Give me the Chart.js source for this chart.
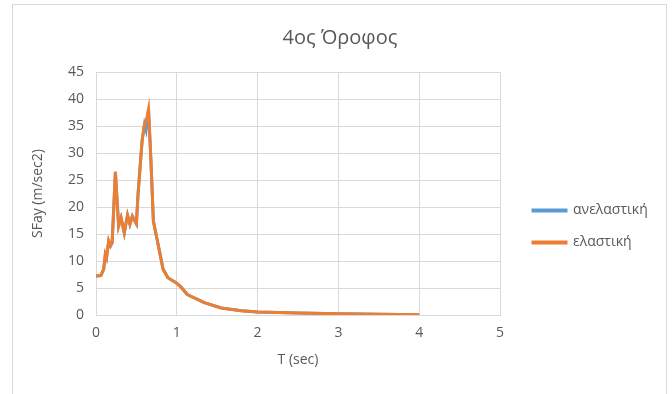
<!DOCTYPE html>
<html>
<head>
<meta charset="utf-8">
<script src="https://cdn.jsdelivr.net/npm/chart.js@4/dist/chart.umd.min.js"></script>
<style>
    body { margin: 0; background: #fff; }
    #box {
        position: absolute; left: 12px; top: 4px; width: 655px; height: 395px;
        border: 1px solid #d9d9d9; box-sizing: border-box;
    }
    canvas { position: absolute; left: 0; top: 0; }
</style>
</head>
<body>
<div id="box"><canvas id="myChart" width="654" height="390"></canvas></div>
<script>
let periods = [0, 0.06, 0.095, 0.115, 0.13, 0.157, 0.18, 0.2, 0.24, 0.28, 0.31, 0.35, 0.39, 0.42, 0.45, 0.5, 0.52, 0.57, 0.6, 0.62, 0.65, 0.68, 0.71, 0.76, 0.83, 0.89, 0.99, 1.05, 1.13, 1.34, 1.55, 1.8, 2.0, 2.5, 3.0, 3.5, 4.0];
let elastic = [7.2, 7.3, 8.5, 11.2, 10.6, 13.7, 12.8, 13.4, 26.5, 16.5, 18.0, 15.2, 18.5, 16.8, 18.3, 16.9, 22.3, 32.2, 35.3, 35.8, 38.1, 28.5, 17.4, 13.7, 8.5, 6.9, 6.0, 5.2, 3.8, 2.3, 1.3, 0.8, 0.55, 0.35, 0.25, 0.15, 0.05];
let inelastic = [7.2, 7.3, 8.5, 11.2, 10.6, 13.7, 12.8, 13.4, 26.5, 16.5, 18.0, 15.2, 18.5, 16.8, 18.3, 16.9, 22.3, 32.2, 35.3, 34.2, 38.1, 28.5, 17.4, 13.7, 8.5, 6.9, 6.0, 5.2, 3.8, 2.3, 1.3, 0.8, 0.55, 0.35, 0.25, 0.15, 0.05];
let xTicks = [0, 1, 2, 3, 4, 5];
let yTicks = [0, 5, 10, 15, 20, 25, 30, 35, 40, 45];

let colors = {
    'blue': '#5b9bd5'
    , 'orange': '#ed7d31'
    , 'text': '#595959'
    , 'grid': '#d9d9d9'
}

const toPoints = (xs, ys) => xs.map((x, i) => ({ x: x, y: ys[i] }));

let font = '"Open Sans", "Noto Sans", sans-serif';

// legend on the right with a fixed width, pushed a bit lower like in the original
const legendNudge = {
    id: 'legendNudge',
    afterInit(chart) {
        let legend = chart.legend;
        let fit = legend.fit;
        legend.fit = function () {
            fit.call(this);
            this.width = 167;
        };
    },
    afterLayout(chart) {
        chart.legend.left += 15;
        chart.legend.top += 53;
    }
};

let ctx = document.getElementById('myChart').getContext('2d');
let myChart = new Chart(ctx, {
    type: 'scatter',
    data: {
        datasets: [
            {
                label: 'ανελαστική',
                data: toPoints(periods, inelastic),
                showLine: true,
                borderColor: colors['blue'],
                backgroundColor: colors['blue'],
                borderWidth: 3,
                pointRadius: 0,
                tension: 0,
                order: 1,
            },
            {
                label: 'ελαστική',
                data: toPoints(periods, elastic),
                showLine: true,
                borderColor: colors['orange'],
                backgroundColor: colors['orange'],
                borderWidth: 3,
                pointRadius: 0,
                tension: 0,
                order: 0,
            },
        ]
    },
    options: {
        responsive: false,
        animation: false,
        layout: { padding: 0 },
        plugins: {
            title: {
                display: true,
                text: '4ος Όροφος',
                color: colors['text'],
                font: { family: font, size: 20, weight: 'normal' },
                padding: { top: 21, bottom: 22 },
            },
            legend: {
                position: 'right',
                labels: {
                    boxWidth: 33,
                    boxHeight: 1,
                    color: colors['text'],
                    font: { family: font, size: 14 },
                    padding: 18,
                    sort: (a, b) => a.datasetIndex - b.datasetIndex,
                },
            },
            tooltip: { enabled: false },
        },
        scales: {
            x: {
                type: 'linear',
                min: 0,
                max: 5,
                afterBuildTicks: (axis) => { axis.ticks = xTicks.map(v => ({ value: v })); },
                afterFit: (axis) => { axis.height = 80; },
                grid: { color: colors['grid'], drawTicks: false },
                border: { color: colors['grid'] },
                ticks: { color: colors['text'], font: { family: font, size: 14 }, padding: 10 },
                title: {
                    display: true, text: 'T (sec)', color: colors['text'],
                    font: { family: font, size: 14 }, padding: { top: 0, bottom: 27 },
                },
            },
            y: {
                min: 0,
                max: 45,
                afterBuildTicks: (axis) => { axis.ticks = yTicks.map(v => ({ value: v })); },
                afterFit: (axis) => { axis.width = 83; },
                grid: { color: colors['grid'], drawTicks: false },
                border: { color: colors['grid'] },
                ticks: { color: colors['text'], font: { family: font, size: 14 }, padding: 12 },
                title: {
                    display: true, text: 'SFay (m/sec2)', color: colors['text'],
                    font: { family: font, size: 14 }, padding: { top: 17, bottom: 0 },
                },
            },
        },
    },
    plugins: [legendNudge]
});
</script>
</body>
</html>
